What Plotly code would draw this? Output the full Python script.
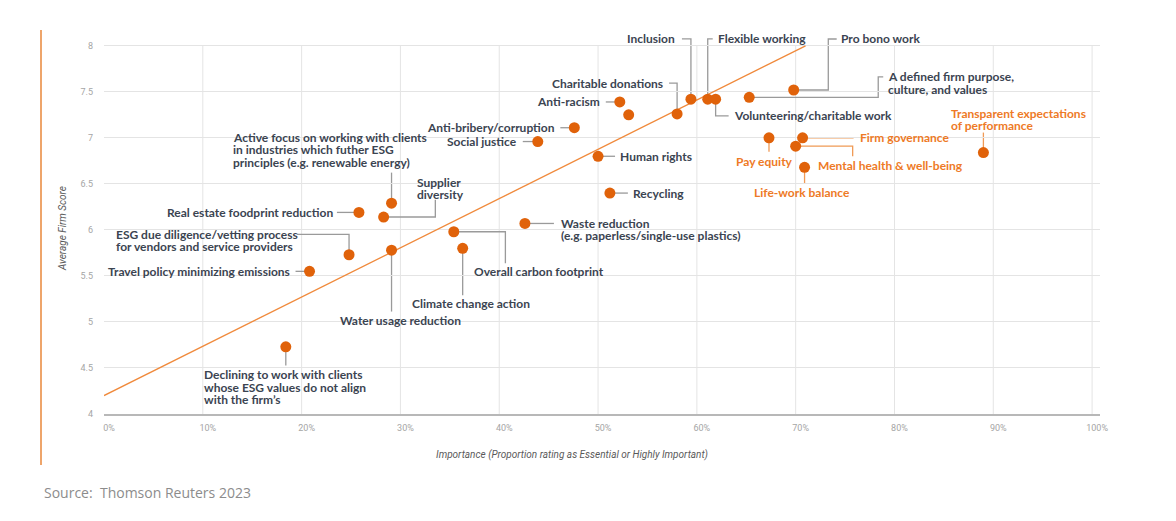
import plotly.graph_objects as go

# ---------------- data ----------------
labels = [
    "Declining to work with clients<br>whose ESG values do not align<br>with the firm’s",
    "Travel policy minimizing emissions",
    "ESG due diligence/vetting process<br>for vendors and service providers",
    "Real estate foodprint reduction",
    "Supplier<br>diversity",
    "Active focus on working with clients<br>in industries which futher ESG<br>principles (e.g. renewable energy)",
    "Water usage reduction",
    "Overall carbon footprint",
    "Climate change action",
    "Waste reduction<br>(e.g. paperless/single-use plastics)",
    "Social justice",
    "Anti-bribery/corruption",
    "Human rights",
    "Recycling",
    "Anti-racism",
    "",
    "Charitable donations",
    "Inclusion",
    "Flexible working",
    "Volunteering/charitable work",
    "A defined firm purpose,<br>culture, and values",
    "Pay equity",
    "Pro bono work",
    "Mental health & well-being",
    "Firm governance",
    "Life-work balance",
    "Transparent expectations<br>of performance",
]
importance = [18.4, 20.8, 24.8, 25.8, 28.3, 29.1, 29.1, 35.4, 36.3, 42.6, 43.9, 47.6, 50.0,
              51.2, 52.2, 53.1, 58.0, 59.4, 61.1, 61.9, 65.3, 67.3, 69.8, 70.0, 70.7, 70.9, 89.0]
score = [4.73, 5.55, 5.73, 6.19, 6.14, 6.29, 5.78, 5.98, 5.80, 6.07, 6.96, 7.11, 6.80,
         6.40, 7.39, 7.25, 7.26, 7.42, 7.42, 7.42, 7.44, 7.00, 7.52, 6.91, 7.00, 6.68, 6.84]
highlight = [False] * 21 + [True, False, True, True, True, True]

trend_x = [0, 71]
trend_y = [4.2, 8.0]

x_ticks = [0, 10, 20, 30, 40, 50, 60, 70, 80, 90, 100]
x_ticktext = ["0%", "10%", "20%", "30%", "40%", "50%", "60%", "70%", "80%", "90%", "100%"]
y_ticks = [4, 4.5, 5, 5.5, 6, 6.5, 7, 7.5, 8]
y_ticktext = ["4", "4.5", "5", "5.5", "6", "6.5", "7", "7.5", "8"]

# ---------------- label layout (pixel offsets from the point, screen-down positive) ----
# (xanchor, dx, dy of first line, leader polyline)
label_layout = [
    ("left", -84, 27.7, [(0, 0), (0, 18.7)]),
    ("right", -17.3, 0, [(0, 0), (-14, 0)]),
    ("left", -234.7, -20.3, [(0, 0), (0, -20.3), (-52, -20.3)]),
    ("right", -24.4, 0, [(0, 0), (-22, 0)]),
    ("left", 31.7, -35, [(0, 0), (51.7, 0), (51.7, -17.3)]),
    ("left", -160.7, -66, [(0, 0), (0, -30.6)]),
    ("left", -53.7, 70.4, [(0, 0), (0, 61.4)]),
    ("left", 18.6, 39.3, [(0, 0), (51.6, 0), (51.6, 31.6)]),
    ("left", -52.3, 54.7, [(0, 0), (0, 47)]),
    ("left", 34.3, 0, [(0, 0), (29, 0)]),
    ("right", -19, 0, [(0, 0), (-15, 0)]),
    ("right", -17.7, 0, [(0, 0), (-14, 0)]),
    ("left", 20.3, 0, [(0, 0), (17, 0)]),
    ("left", 21.3, 0, [(0, 0), (18, 0)]),
    ("right", -17.3, 0, [(0, 0), (-14, 0)]),
    (None, 0, 0, []),
    ("right", -11.7, -30.7, [(0, 0), (0, -30.7), (-8, -30.7)]),
    ("right", -13.7, -60.4, [(0, 0), (0, -60.4), (-9, -60.4)]),
    ("left", 8, -60.4, [(0, 0), (0, -60.4), (5, -60.4)]),
    ("left", 16.3, 16.6, [(0, 0), (0, 16.6), (13, 16.6)]),
    ("left", 136.7, -20.4, [(0, 0), (129, 0), (129, -20.4), (134, -20.4)]),
    ("center", -4.7, 24, [(0, 0), (0, 14)]),
    ("left", 45.6, -51, [(0, 0), (34.6, 0), (34.6, -51), (43, -51)]),
    ("left", 20, 19, [(0, 0), (57, 0), (57, 10)]),
    ("left", 55.4, 0, [(0, 0), (51, 0)]),
    ("center", -3, 25, [(0, 0), (0, 16)]),
    ("left", -34, -39.3, [(0, 0), (0, -20)]),
]

DOT = "#E0620A"
ORANGE_TXT = "#EE7A26"
ORANGE_LINE = "#F09A55"
DARK_TXT = "#3B4451"
GRAY_LINE = "#9A9A9A"
GRID = "#E4E4E4"
LINE_GAP = 12.5
LABEL_FONT = "Lato"

# The page body adds an 8px margin at top-left, so the figure is drawn 8px smaller.
PAGE_OFF = 8

fig = go.Figure()

fig.add_trace(go.Scatter(
    x=trend_x, y=trend_y, mode="lines",
    line=dict(color="#F08A3C", width=1.3),
    hoverinfo="skip", showlegend=False,
))

fig.add_trace(go.Scatter(
    x=importance, y=score, mode="markers",
    marker=dict(size=11, color=DOT, line=dict(width=0)),
    text=[l.replace("<br>", " ") for l in labels], hoverinfo="text",
    showlegend=False, cliponaxis=False,
))

shapes = []
annotations = []

# vertical gridlines
for xv in x_ticks[1:]:
    shapes.append(dict(type="line", xref="x", yref="y", x0=xv, x1=xv, y0=4, y1=8,
                       line=dict(color=GRID, width=1), layer="below"))

for lab, xi, yi, hl, (anchor, dx, dy, path) in zip(labels, importance, score, highlight, label_layout):
    if not lab:
        continue
    color_t = ORANGE_TXT if hl else DARK_TXT
    color_l = ORANGE_LINE if hl else GRAY_LINE
    if path:
        d = "M " + " L ".join(f"{px},{-py}" for px, py in path)
        shapes.append(dict(type="path", path=d, xref="x", yref="y",
                           xsizemode="pixel", ysizemode="pixel",
                           xanchor=xi, yanchor=yi,
                           line=dict(color=color_l, width=1.3), layer="below"))
    for i, line in enumerate(lab.split("<br>")):
        annotations.append(dict(
            x=xi, y=yi, xref="x", yref="y", text=line, showarrow=False,
            xanchor=anchor, yanchor="middle", xshift=dx, yshift=-(dy + i * LINE_GAP),
            font=dict(family=LABEL_FONT, size=12, color=color_t, weight=700),
        ))

# axis titles & source (positions relative to the plot area, in page pixels)
annotations.append(dict(
    x=(572 - 104) / 996, y=(414 - 455) / 382, xref="paper", yref="paper",
    text="<i>Importance (Proportion rating as Essential or Highly Important)</i>",
    showarrow=False, xanchor="center", yanchor="middle",
    font=dict(family="Roboto", size=10, color="#5A5A5A"),
))
annotations.append(dict(
    x=(62 - 104) / 996, y=(414 - 229) / 382, xref="paper", yref="paper",
    text="<i>Average Firm Score</i>", textangle=-90,
    showarrow=False, xanchor="center", yanchor="middle",
    font=dict(family="Roboto", size=10, color="#5A5A5A"),
))
annotations.append(dict(
    x=(42 - 104) / 996, y=(414 - 492) / 382, xref="paper", yref="paper",
    text="Source:  Thomson Reuters 2023",
    showarrow=False, xanchor="left", yanchor="middle",
    font=dict(family="Open Sans", size=14, color="#8C8C8C"),
))

# left orange rule
shapes.append(dict(type="line", xref="paper", yref="paper",
                   x0=(41 - 104) / 996, x1=(41 - 104) / 996,
                   y0=(414 - 30) / 382, y1=(414 - 465) / 382,
                   line=dict(color="#E8873A", width=1.5)))

fig.update_layout(
    width=1176 - PAGE_OFF, height=521 - PAGE_OFF,
    margin=dict(l=104 - PAGE_OFF, r=76, t=32 - PAGE_OFF, b=107),
    paper_bgcolor="white", plot_bgcolor="white",
    shapes=shapes, annotations=annotations,
    xaxis=dict(range=[0, 100.8], tickvals=x_ticks, ticktext=x_ticktext,
               showgrid=False, zeroline=False, showline=True,
               linecolor="#B8B8B8", linewidth=2, ticks="",
               tickfont=dict(family="Roboto", size=9, color="#A5A5A5"),
               ticklabelshift=5, ticklabelstandoff=4, fixedrange=True),
    yaxis=dict(range=[4, 8.15], tickvals=y_ticks, ticktext=y_ticktext,
               showgrid=True, gridcolor=GRID, gridwidth=1, zeroline=False,
               showline=False, ticks="",
               tickfont=dict(family="Roboto", size=9, color="#A5A5A5"),
               ticklabelstandoff=10, fixedrange=True),
    showlegend=False,
)

fig.write_html("out.html")
